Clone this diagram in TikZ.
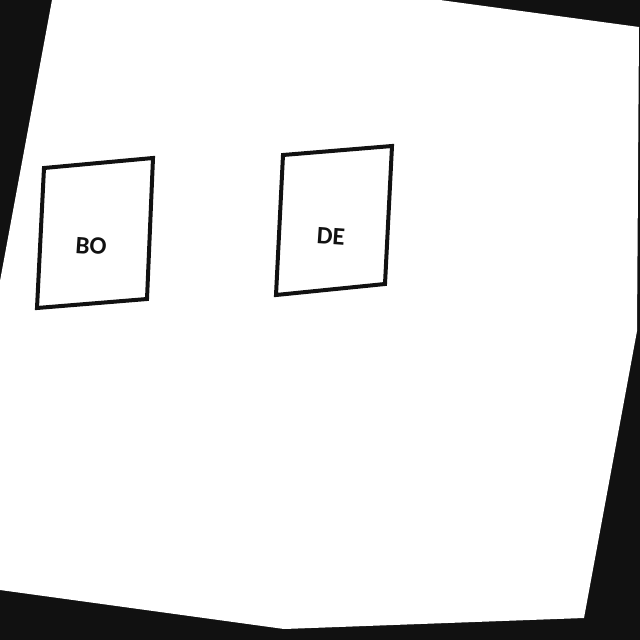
\documentclass[tikz,border=0pt]{standalone}
\usepackage{fontspec}
\setmainfont{Carlito}
\definecolor{scan}{RGB}{17,17,17}
\tikzset{
	box/.style={draw=scan, line width=4pt, line join=miter},
	tag/.style={text=scan, font=\bfseries\fontsize{25}{25}\selectfont, rotate=-4, inner sep=0pt}
}
\begin{document}
\begin{tikzpicture}[x=1pt, y=-1pt]
	% фон
	\useasboundingbox ( 0, 0 ) rectangle ( 640, 640 );
	\fill [scan] ( 0, 0 ) rectangle ( 640, 640 );

	% лист
	\fill [white] ( 52, 0 ) -- ( 440, 0 ) -- ( 639, 27 ) -- ( 637, 331 ) -- ( 584, 618 ) -- ( 284, 629 ) -- ( 0, 590 ) -- ( 0, 281 ) -- cycle;

	% блок BO
	\draw [box] ( 44, 168 ) -- ( 153, 158 ) -- ( 147, 299 ) -- ( 37, 308 ) -- cycle;
	\node [tag] (bo) at ( 91, 246 ) {BO};

	% блок DE
	\draw [box] ( 283, 155 ) -- ( 392, 146 ) -- ( 385, 284 ) -- ( 276, 295 ) -- cycle;
	\node [tag] (de) at ( 331, 236 ) {DE};
\end{tikzpicture}
\end{document}
